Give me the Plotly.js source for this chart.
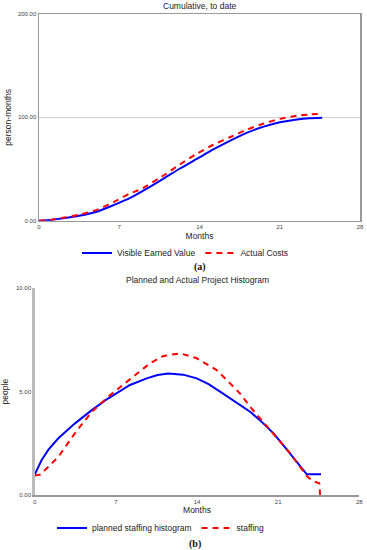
<!DOCTYPE html>
<html>
<head>
<meta charset="utf-8">
<script src="https://cdn.plot.ly/plotly-3.0.1.min.js"></script>
<style>html,body{margin:0;padding:0;background:#fff;}#chart{width:367px;height:550px;}</style>
</head>
<body>
<div id="chart"></div>
<script>
// ---- Data: (a) Cumulative, to date (person-months) ----
var evMonths = [0, 1, 2.1, 3.5, 5.05, 6.5, 7.96, 9.4, 10.9, 12.3, 13.8, 15.2, 16.7, 18.1, 19.6, 21.0, 22.5, 23.6, 24.7];
var evValues = [0, 0.6, 2.3, 4.8, 8.7, 15, 22, 31, 41, 50.5, 60, 69, 77.5, 85, 91, 95.2, 98, 99.2, 99.7];
var acMonths = [0, 1, 2.1, 3.5, 5.05, 6.5, 7.96, 8.84, 10.9, 12.3, 13.8, 15.2, 16.7, 18.1, 19.6, 21.0, 22.5, 23.6, 24.7];
var acValues = [0, 0.8, 2.8, 5.8, 10.5, 18, 26.5, 30.3, 44, 54.5, 65, 73.5, 81, 88, 94, 98.5, 101.6, 102.8, 103.5];

// ---- Data: (b) Planned and Actual Project Histogram (people) ----
var plMonths = [0, 0.6, 1.17, 2.04, 3.48, 4.92, 6.35, 8.22, 9.66, 10.6, 11.53, 12.8, 13.98, 15.0, 15.99, 16.85, 17.7, 18.58, 19.6, 20.6, 21.3, 22.03, 22.8, 23.47, 24.0, 24.7];
var plValues = [1.0, 1.7, 2.19, 2.75, 3.47, 4.11, 4.68, 5.32, 5.64, 5.8, 5.88, 5.82, 5.64, 5.36, 5.0, 4.68, 4.36, 4.03, 3.53, 2.99, 2.52, 2.03, 1.5, 1.01, 1.01, 1.01];
var stMonths = [0, 0.5, 0.89, 2.04, 3.48, 4.92, 6.35, 8.22, 9.95, 11.1, 12.54, 13.98, 15.7, 16.85, 17.7, 18.58, 20.6, 22.03, 23.47, 24.0, 24.55, 24.62];
var stValues = [0.95, 1.0, 1.22, 1.86, 3.0, 4.03, 4.76, 5.6, 6.37, 6.72, 6.85, 6.61, 6.04, 5.4, 4.92, 4.27, 2.99, 2.03, 0.93, 0.68, 0.58, 0];

var xTicks = [0, 7, 14, 21, 28];
var yTicksA = [0, 100, 200];
var yTicksB = [0, 5, 10];

var W = 367, H = 550;
function px(x) { return x / W; }
function py(y) { return 1 - y / H; }

var FONT = "Liberation Sans, Arial, sans-serif";
var BLUE = "#0000ff", RED = "#ff0000";

var traces = [
  {x: evMonths, y: evValues, type: "scatter", mode: "lines", name: "Visible Earned Value",
   line: {color: BLUE, width: 2, shape: "spline", smoothing: 0.6}, xaxis: "x", yaxis: "y", legend: "legend"},
  {x: acMonths, y: acValues, type: "scatter", mode: "lines", name: "Actual Costs",
   line: {color: RED, width: 2, dash: "6px,5px", shape: "spline", smoothing: 0.6}, xaxis: "x", yaxis: "y", legend: "legend"},
  {x: plMonths, y: plValues, type: "scatter", mode: "lines", name: "planned staffing histogram",
   line: {color: BLUE, width: 2}, xaxis: "x2", yaxis: "y2", legend: "legend2"},
  {x: stMonths, y: stValues, type: "scatter", mode: "lines", name: "staffing",
   line: {color: RED, width: 2, dash: "6px,5px"}, xaxis: "x2", yaxis: "y2", legend: "legend2"}
];

var tickFont = {family: FONT, size: 6, color: "#444"};
var titleFont = {family: FONT, size: 8.5, color: "#222"};

var layout = {
  width: W, height: H,
  margin: {l: 0, r: 0, t: 0, b: 0},
  paper_bgcolor: "#fff", plot_bgcolor: "#fff",
  font: {family: FONT, color: "#222"},
  showlegend: true,
  xaxis: {
    domain: [px(39), px(360)], anchor: "y", range: [0, 28],
    tickvals: xTicks, ticktext: xTicks.map(String), tickfont: tickFont, ticks: "",
    showline: true, mirror: true, linecolor: "#999", linewidth: 1.5,
    showgrid: false, zeroline: false, fixedrange: true,
    title: {text: "Months", font: titleFont, standoff: 3}
  },
  yaxis: {
    domain: [py(220.7), py(14)], anchor: "x", range: [0, 200],
    tickvals: yTicksA, tickformat: ".2f", tickfont: tickFont, ticks: "",
    showline: true, mirror: true, linecolor: "#999", linewidth: 1.5,
    showgrid: true, gridcolor: "#cfcfcf", gridwidth: 1, zeroline: false,
    title: {text: "person-months", font: titleFont, standoff: 5}
  },
  xaxis2: {
    domain: [px(34.7), px(359.3)], anchor: "y2", range: [0, 28],
    tickvals: xTicks, ticktext: xTicks.map(String), tickfont: tickFont, ticks: "",
    showline: true, linecolor: "#999", linewidth: 1.5,
    showgrid: false, zeroline: false,
    title: {text: "Months", font: titleFont, standoff: 3}
  },
  yaxis2: {
    domain: [py(495.3), py(288)], anchor: "x2", range: [0, 10],
    tickvals: yTicksB, tickformat: ".2f", tickfont: tickFont, ticks: "",
    showline: true, linecolor: "#bbb", linewidth: 2.5,
    showgrid: false, zeroline: false,
    title: {text: "people", font: titleFont, standoff: 6}
  },
  legend: {
    orientation: "h", x: px(77), xanchor: "left", y: py(253), yanchor: "middle",
    font: {family: FONT, size: 8.5, color: "#222"}, bgcolor: "rgba(0,0,0,0)",
    itemwidth: 30, traceorder: "normal"
  },
  legend2: {
    orientation: "h", x: px(52), xanchor: "left", y: py(528), yanchor: "middle",
    font: {family: FONT, size: 8.5, color: "#222"}, bgcolor: "rgba(0,0,0,0)",
    itemwidth: 30, traceorder: "normal"
  },
  annotations: [
    {text: "Cumulative, to date", xref: "paper", yref: "paper", x: px(199.5), y: py(6),
     xanchor: "center", yanchor: "middle", showarrow: false, font: titleFont},
    {text: "Planned and Actual Project Histogram", xref: "paper", yref: "paper", x: px(197), y: py(280),
     xanchor: "center", yanchor: "middle", showarrow: false, font: titleFont},
    {text: "<b>(a)</b>", xref: "paper", yref: "paper", x: px(200), y: py(267),
     xanchor: "center", yanchor: "middle", showarrow: false,
     font: {family: "Liberation Serif, Times New Roman, serif", size: 10, color: "#111"}},
    {text: "<b>(b)</b>", xref: "paper", yref: "paper", x: px(195), y: py(544),
     xanchor: "center", yanchor: "middle", showarrow: false,
     font: {family: "Liberation Serif, Times New Roman, serif", size: 10, color: "#111"}}
  ]
};

Plotly.newPlot("chart", traces, layout, {staticPlot: true, displayModeBar: false});
</script>
</body>
</html>
